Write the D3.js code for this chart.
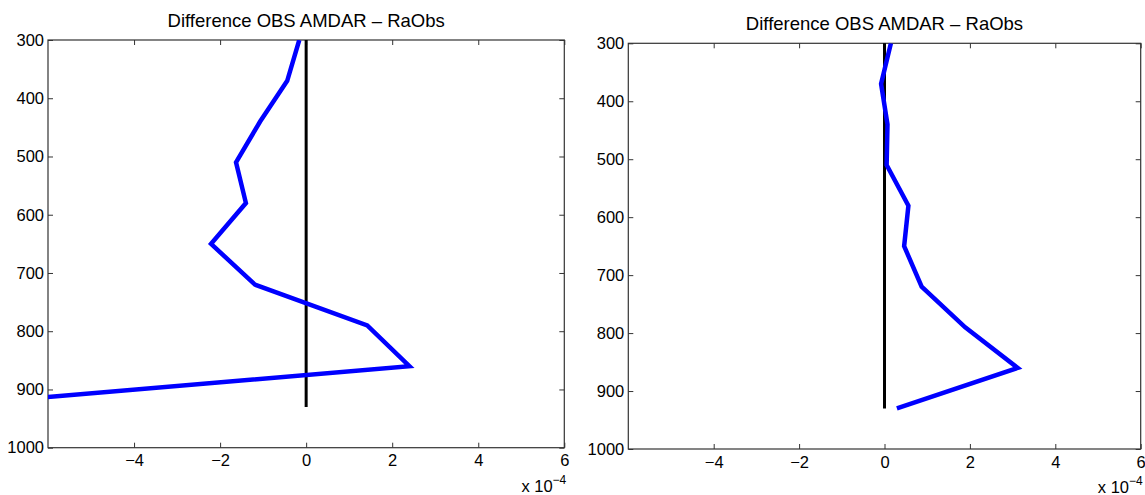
<!DOCTYPE html>
<html>
<head>
<meta charset="utf-8">
<script src="https://cdn.jsdelivr.net/npm/d3@7"></script>
<style>
  body { margin: 0; background: #fff; }
  svg text { font-family: "Liberation Sans", Arial, Helvetica, sans-serif; fill: #000; }
</style>
</head>
<body>
<div id="chart"></div>
<script>
// pressure levels (hPa) shared by both profiles
const pressure = [300, 370, 440, 510, 580, 650, 720, 790, 860, 930];
// difference values, in units of 1e-4
const diffLeft = [-0.16, -0.44, -1.07, -1.63, -1.40, -2.21, -1.19, 1.42, 2.40, -8.7];
const diffRight = [0.15, -0.08, 0.07, 0.05, 0.56, 0.46, 0.87, 1.89, 3.12, 0.29];
const xTicks = [-4, -2, 0, 2, 4, 6];
const yTicks = [300, 400, 500, 600, 700, 800, 900, 1000];
const titleText = "Difference OBS AMDAR \u2013 RaObs";

const svg = d3.select("#chart")
    .append("svg")
    .attr("width", 1145)
    .attr("height", 495);

const panels = [
    {id: "left", x0: 48, x1: 564.3, y0: 40, y1: 447.7, values: diffLeft},
    {id: "right", x0: 628.3, x1: 1140.7, y0: 43.3, y1: 449, values: diffRight}
];

panels.forEach(p => {
    const xScale = d3.scaleLinear().domain([-6, 6]).range([p.x0, p.x1]);
    const yScale = d3.scaleLinear().domain([300, 1000]).range([p.y0, p.y1]);

    const g = svg.append("g").attr("id", p.id + "Panel");

    //Clip so the profile stays inside the axes box
    g.append("clipPath")
        .attr("id", "clip-" + p.id)
        .append("rect")
        .attr("x", p.x0).attr("y", p.y0)
        .attr("width", p.x1 - p.x0).attr("height", p.y1 - p.y0);

    //Bottom axis with labels, ticks pointing inward
    g.append("g")
        .attr("transform", "translate(0," + p.y1 + ")")
        .call(d3.axisBottom(xScale).tickValues(xTicks).tickSizeInner(-5).tickSizeOuter(0).tickPadding(7)
            .tickFormat(d => d < 0 ? "\u2212" + Math.abs(d) : d));
    //Top axis ticks only
    g.append("g")
        .attr("transform", "translate(0," + p.y0 + ")")
        .call(d3.axisTop(xScale).tickValues(xTicks).tickSizeInner(-5).tickSizeOuter(0).tickFormat(""));
    //Left axis with labels
    g.append("g")
        .attr("transform", "translate(" + p.x0 + ",0)")
        .call(d3.axisLeft(yScale).tickValues(yTicks).tickSizeInner(-5).tickSizeOuter(0).tickPadding(4)
            .tickFormat(d3.format("d")));
    //Right axis ticks only
    g.append("g")
        .attr("transform", "translate(" + p.x1 + ",0)")
        .call(d3.axisRight(yScale).tickValues(yTicks).tickSizeInner(-5).tickSizeOuter(0).tickFormat(""));

    g.selectAll(".domain").remove();
    g.selectAll(".tick line").attr("stroke", "#333").attr("stroke-width", 1);
    g.selectAll(".tick text")
        .style("font-size", "16.5px")
        .style("font-family", "'Liberation Sans', Arial, sans-serif")
        .attr("fill", "#000");

    //Axes box
    g.append("rect")
        .attr("x", p.x0).attr("y", p.y0)
        .attr("width", p.x1 - p.x0).attr("height", p.y1 - p.y0)
        .attr("fill", "none")
        .attr("stroke", "#333")
        .attr("stroke-width", 1.2);

    //Zero reference line over the pressure range of the data
    g.append("line")
        .attr("x1", xScale(0)).attr("x2", xScale(0))
        .attr("y1", yScale(d3.min(pressure))).attr("y2", yScale(d3.max(pressure)))
        .attr("stroke", "#000")
        .attr("stroke-width", 3);

    //Difference profile
    const line = d3.line()
        .x(d => xScale(d[0]))
        .y(d => yScale(d[1]));
    g.append("path")
        .datum(p.values.map((v, i) => [v, pressure[i]]))
        .attr("clip-path", "url(#clip-" + p.id + ")")
        .attr("d", line)
        .attr("fill", "none")
        .attr("stroke", "#0000ff")
        .attr("stroke-width", 4.5)
        .attr("stroke-linejoin", "miter");

    //Title
    g.append("text")
        .attr("x", (p.x0 + p.x1) / 2)
        .attr("y", p.y0 - 13)
        .attr("text-anchor", "middle")
        .style("font-size", "18.5px")
        .text(titleText);

    //Exponent label
    const ex = g.append("text")
        .attr("x", p.x1 + 2)
        .attr("y", p.y1 + 44)
        .attr("text-anchor", "end")
        .style("font-size", "16.5px");
    ex.append("tspan").text("x 10");
    ex.append("tspan").attr("dy", -8).style("font-size", "12px").text("\u22124");
});
</script>
</body>
</html>
